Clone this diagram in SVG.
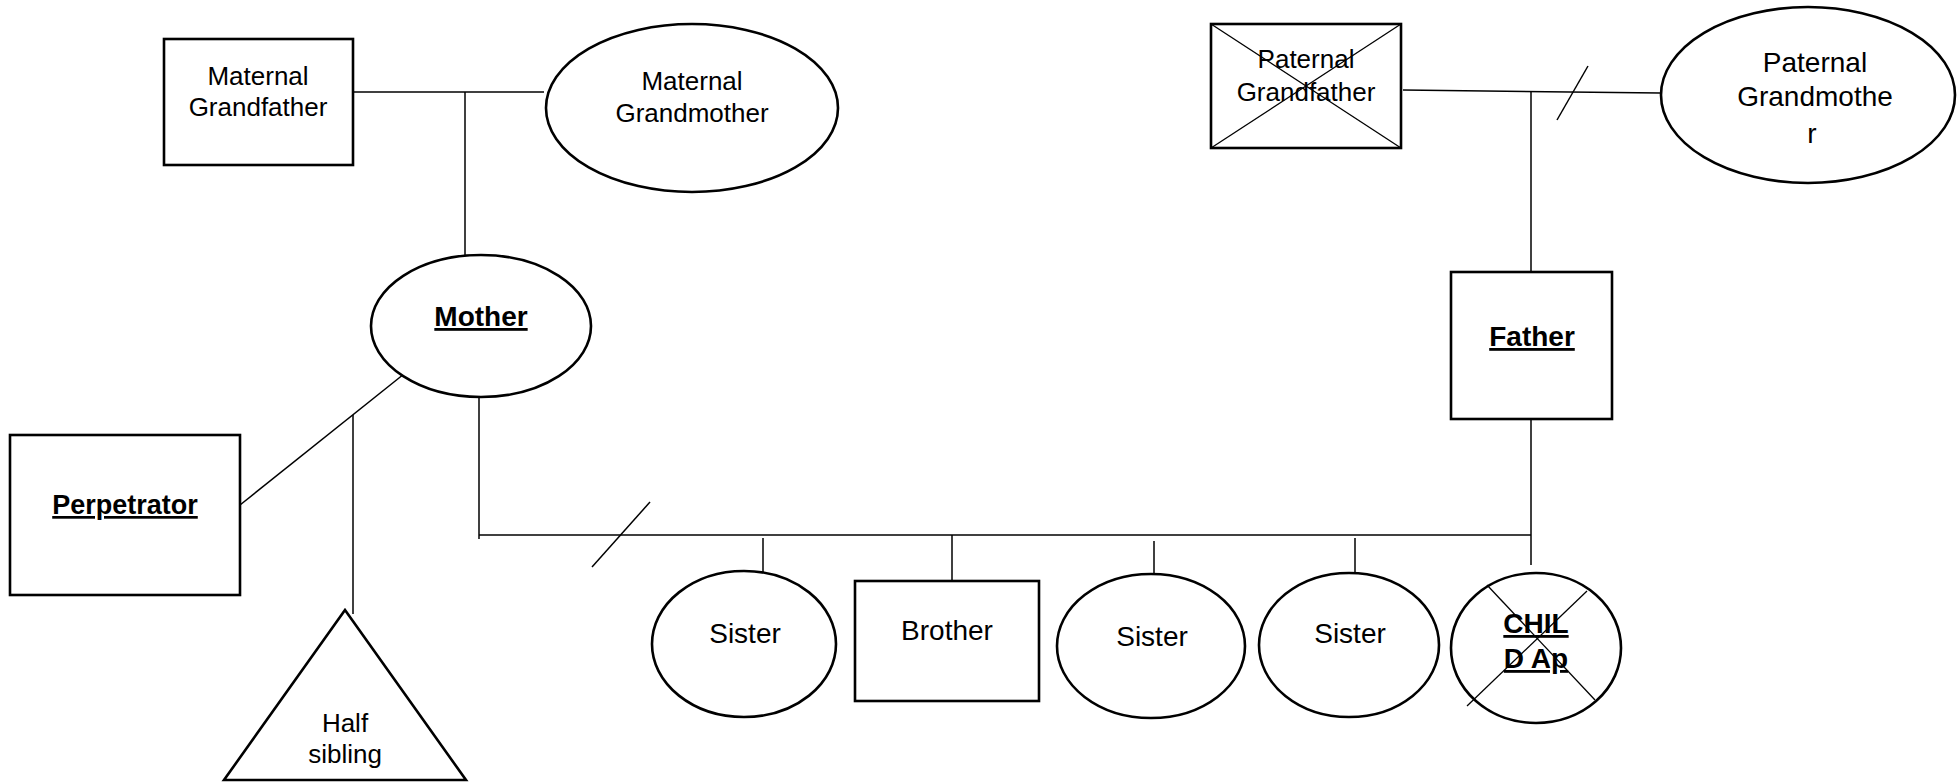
<svg xmlns="http://www.w3.org/2000/svg" width="1960" height="782" viewBox="0 0 1960 782">
  <style>
    .shape { fill: #ffffff; stroke: #000000; stroke-width: 2.6; }
    .link { fill: none; stroke: #000000; stroke-width: 1.5; }
    .cross { fill: none; stroke: #000000; stroke-width: 1.3; }
    .lbl { font-family: "Liberation Sans", Arial, sans-serif; font-size: 26px; fill: #000000; text-anchor: middle; }
    .big { font-size: 28px; }
    .key { font-family: "Liberation Sans", Arial, sans-serif; font-weight: bold; font-size: 28px; fill: #000000; text-anchor: middle; text-decoration: underline; text-decoration-thickness: 3px; }
  </style>
  <rect width="1960" height="782" fill="#ffffff"/>

  <!-- relationship lines -->
  <g id="connectors">
    <!-- maternal grandparents couple + descent to mother -->
    <line class="link" x1="354" y1="92" x2="544" y2="92"/>
    <line class="link" x1="465" y1="92" x2="465" y2="258"/>
    <!-- paternal grandparents couple (separated) + descent to father -->
    <line class="link" x1="1403" y1="90" x2="1660" y2="93"/>
    <line class="link" x1="1557" y1="120" x2="1588" y2="66"/>
    <line class="link" x1="1531" y1="92" x2="1531" y2="275"/>
    <!-- mother and perpetrator, half sibling -->
    <line class="link" x1="240" y1="505" x2="404" y2="374"/>
    <line class="link" x1="353" y1="415" x2="353" y2="614"/>
    <!-- parents couple line (separated) -->
    <line class="link" x1="479" y1="394" x2="479" y2="539"/>
    <line class="link" x1="479" y1="535" x2="1531" y2="535"/>
    <line class="link" x1="592" y1="567" x2="650" y2="502"/>
    <line class="link" x1="1531" y1="416" x2="1531" y2="565"/>
    <!-- sibling drops -->
    <line class="link" x1="763" y1="538" x2="763" y2="572"/>
    <line class="link" x1="952" y1="535" x2="952" y2="581"/>
    <line class="link" x1="1154" y1="541" x2="1154" y2="575"/>
    <line class="link" x1="1355" y1="538" x2="1355" y2="573"/>
  </g>

  <g id="maternal-grandfather">
    <rect class="shape" x="164" y="39" width="189" height="126"/>
    <text class="lbl" x="258" y="85">Maternal</text>
    <text class="lbl" x="258" y="116">Grandfather</text>
  </g>

  <g id="maternal-grandmother">
    <ellipse class="shape" cx="692" cy="108" rx="146" ry="84"/>
    <text class="lbl" x="692" y="90">Maternal</text>
    <text class="lbl" x="692" y="122">Grandmother</text>
  </g>

  <g id="paternal-grandfather">
    <rect class="shape" x="1211" y="24" width="190" height="124"/>
    <line class="cross" x1="1211" y1="24" x2="1401" y2="148"/>
    <line class="cross" x1="1401" y1="24" x2="1211" y2="148"/>
    <text class="lbl" x="1306" y="68">Paternal</text>
    <text class="lbl" x="1306" y="101">Grandfather</text>
  </g>

  <g id="paternal-grandmother">
    <ellipse class="shape" cx="1808" cy="95" rx="147" ry="88"/>
    <text class="lbl big" x="1815" y="72">Paternal</text>
    <text class="lbl big" x="1815" y="106">Grandmothe</text>
    <text class="lbl big" x="1812" y="143">r</text>
  </g>

  <g id="mother">
    <ellipse class="shape" cx="481" cy="326" rx="110" ry="71"/>
    <text class="key" x="481" y="326">Mother</text>
  </g>

  <g id="father">
    <rect class="shape" x="1451" y="272" width="161" height="147"/>
    <text class="key" x="1532" y="346">Father</text>
  </g>

  <g id="perpetrator">
    <rect class="shape" x="10" y="435" width="230" height="160"/>
    <text class="key" x="125" y="514" style="font-size:27px">Perpetrator</text>
  </g>

  <g id="half-sibling">
    <polygon class="shape" points="345,610 466,780 224,780"/>
    <text class="lbl" x="345" y="732">Half</text>
    <text class="lbl" x="345" y="763">sibling</text>
  </g>

  <g id="sister-1">
    <ellipse class="shape" cx="744" cy="644" rx="92" ry="73"/>
    <text class="lbl big" x="745" y="643">Sister</text>
  </g>

  <g id="brother">
    <rect class="shape" x="855" y="581" width="184" height="120"/>
    <text class="lbl big" x="947" y="640">Brother</text>
  </g>

  <g id="sister-2">
    <ellipse class="shape" cx="1151" cy="646" rx="94" ry="72"/>
    <text class="lbl big" x="1152" y="646">Sister</text>
  </g>

  <g id="sister-3">
    <ellipse class="shape" cx="1349" cy="645" rx="90" ry="72"/>
    <text class="lbl big" x="1350" y="643">Sister</text>
  </g>

  <g id="child">
    <ellipse class="shape" cx="1536" cy="648" rx="85" ry="75"/>
    <line class="cross" x1="1487" y1="585" x2="1595" y2="700"/>
    <line class="cross" x1="1587" y1="591" x2="1467" y2="706"/>
    <text class="key" x="1536" y="633">CHIL</text>
    <text class="key" x="1536" y="668">D Ap</text>
  </g>
</svg>
